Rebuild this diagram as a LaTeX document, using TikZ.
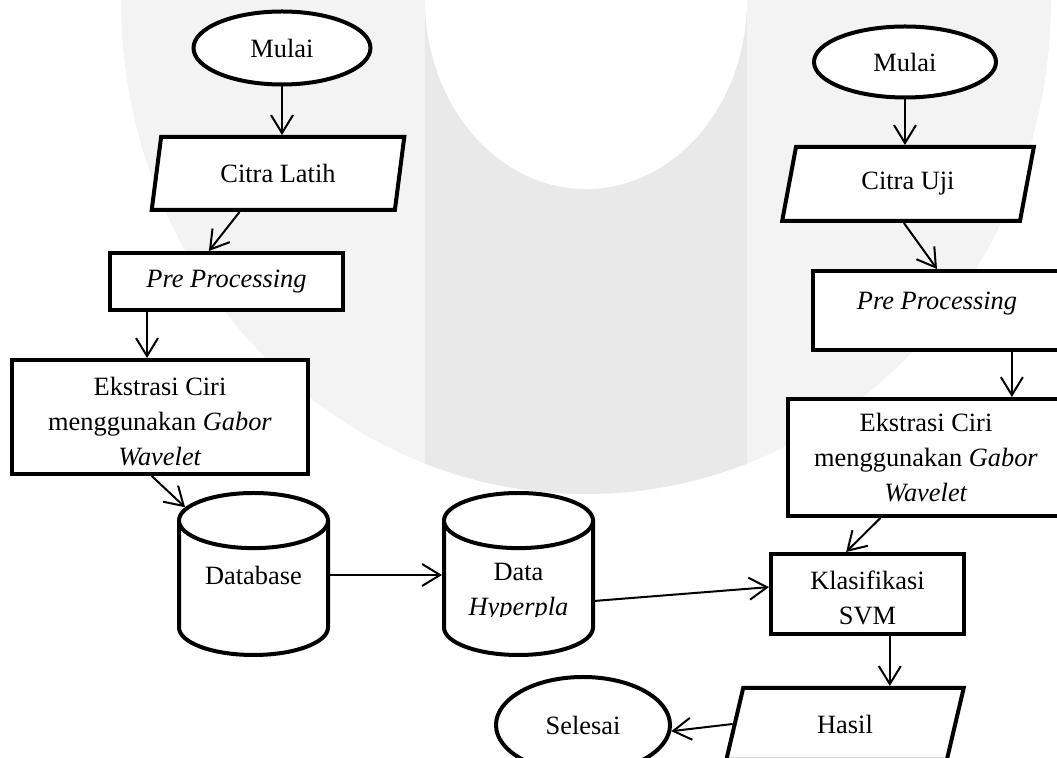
\documentclass[tikz,border=0pt]{standalone}
\usepackage{fontspec}
\setmainfont{Liberation Serif}
\usetikzlibrary{shapes.geometric,arrows.meta}
\definecolor{wmterang}{HTML}{F3F3F3}
\definecolor{wmgelap}{HTML}{E9E9E9}

\begin{document}
\begin{tikzpicture}[x=0.5pt,y=-0.5pt,
    font=\fontsize{13.2pt}{17.5pt}\selectfont,
    bentuk/.style={draw,line width=2pt,inner sep=0pt,fill=white},
    mulai/.style={bentuk,ellipse},
    proses/.style={bentuk,rectangle,align=center},
    io/.style={bentuk,trapezium,trapezium left angle=76,trapezium right angle=104,trapezium stretches=true},
    basisdata/.style={bentuk,cylinder,shape border rotate=90,aspect=0.37,text width=74.5pt,align=center,minimum width=74.5pt,minimum height=81pt,anchor=north},
    panah/.style={line width=1pt,-{Straight Barb[length=9pt,width=11pt]}},
    teks/.style={align=center,inner sep=0pt}]
    % bidang gambar
    \useasboundingbox (0,0) rectangle (1057,758);
    \clip (0,0) rectangle (1057,758);
    % latar (tanda air)
    \fill[wmterang] (586,0) ellipse [x radius=232.5pt, y radius=247pt];
    \begin{scope}
      \clip (586,0) ellipse [x radius=232.5pt, y radius=247pt];
      \fill[wmgelap] (425,0) rectangle (747,500);
    \end{scope}
    \fill[white] (586,0) ellipse [x radius=80.5pt, y radius=94.5pt];
    % citra latih
    \node[mulai,minimum width=88.5pt,minimum height=36.5pt] (mulaiA) at (282,48) {Mulai};
    \node[io,minimum width=127pt,minimum height=36.5pt] (citraA) at (278,173.5) {Citra Latih};
    \node[proses,minimum width=116.5pt,minimum height=28.5pt] (preA) at (226.5,281.5) {\textit{Pre Processing}};
    \node[proses,minimum width=148pt,minimum height=57pt] (ekstrasiA) at (160,417) {};
    \node[basisdata] (database) at (253.5,491) {};
    \node[basisdata] (data) at (518.5,491) {};
    % citra uji
    \node[mulai,minimum width=91pt,minimum height=35.5pt] (mulaiB) at (905,62) {Mulai};
    \node[io,minimum width=126pt,minimum height=37pt] (citraB) at (908,184) {Citra Uji};
    \node[proses,minimum width=124pt,minimum height=39.5pt,text height=9.1pt,text depth=10.5pt] (preB) at (937,310.5) {\textit{Pre Processing}};
    \node[proses,minimum width=138pt,minimum height=58.5pt] (ekstrasiB) at (926,457.5) {Ekstrasi Ciri\\menggunakan \textit{Gabor}\\\textit{Wavelet}};
    \node[proses,minimum width=96.5pt,minimum height=40pt] (klasifikasi) at (867.5,594) {};
    \node[io,minimum width=119pt,minimum height=36pt] (hasil) at (845,724) {Hasil};
    \node[mulai,minimum width=87pt,minimum height=48pt] (selesai) at (583,725) {Selesai};
    % teks (sebagian terpotong)
    \node[teks] (databaseteks) at (253.5,575) {Database};
    \begin{scope}
      \clip (0,0) rectangle (1057,467);
      \node[teks,yshift=-2.5pt] (ekstrasiAteks) at (ekstrasiA) {Ekstrasi Ciri\\menggunakan \textit{Gabor}\\\textit{Wavelet}};
    \end{scope}
    \begin{scope}
      \clip (0,0) rectangle (1057,617);
      \node[teks] (datateks) at (518.5,592) {Data\\\textit{Hyperpla}};
    \end{scope}
    \begin{scope}
      \clip (0,0) rectangle (1057,627);
      \node[teks,yshift=-2pt] (klasifikasiteks) at (klasifikasi) {Klasifikasi\\SVM};
    \end{scope}
    % panah
    \draw[panah] (mulaiA.south) -- (mulaiA.south |- citraA.north);
    \draw[panah] (citraA.225) -- (preA.120);
    \draw[panah] (preA.201) -- (preA.201 |- ekstrasiA.north);
    \draw[panah] (ekstrasiA.262) -- (database.130);
    \draw[panah] (databaseteks.east -| database.east) -- (databaseteks.east -| data.west);
    \draw[panah] (data.351) -- (klasifikasi.176);
    \draw[panah] (mulaiB.south) -- (mulaiB.south |- citraB.north);
    \draw[panah] (citraB.264) -- (preB.north);
    \draw[panah] (preB.331) -- (preB.331 |- ekstrasiB.north);
    \draw[panah] (ekstrasiB.233) -- (klasifikasi.117);
    \draw[panah] (klasifikasi.298) -- (klasifikasi.298 |- hasil.north);
    \draw[panah] (hasil.west) -- (selesai.356);
\end{tikzpicture}
\end{document}
